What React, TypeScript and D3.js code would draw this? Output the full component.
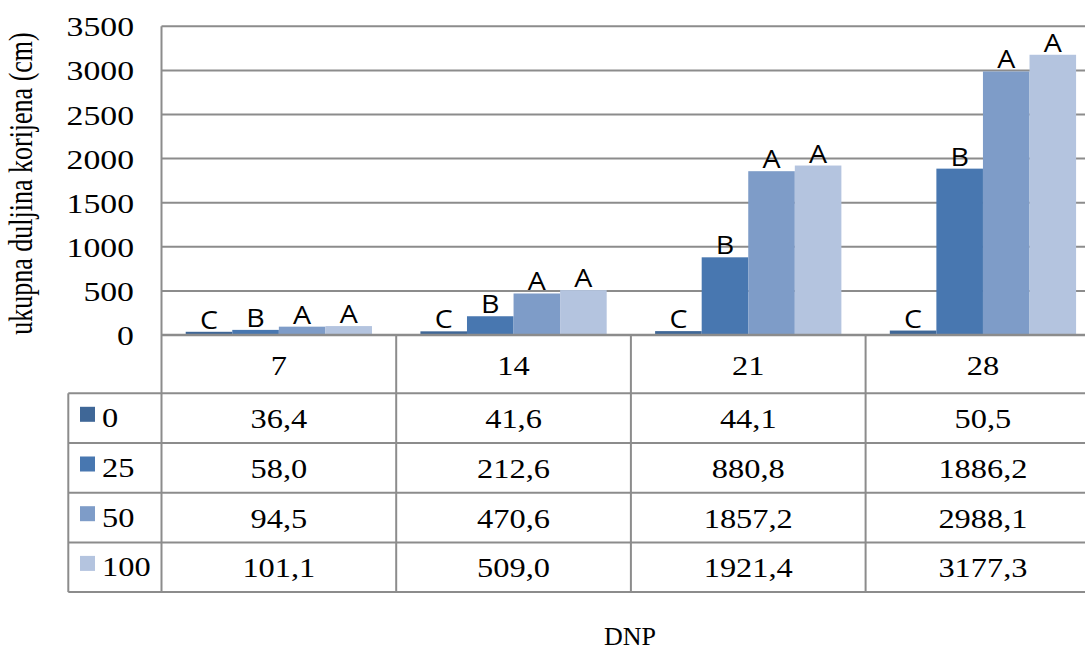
import * as d3 from 'd3';

const categories = ['7', '14', '21', '28'];
const seriesNames = ['0', '25', '50', '100'];
const values0 = [36.4, 41.6, 44.1, 50.5];
const values25 = [58.0, 212.6, 880.8, 1886.2];
const values50 = [94.5, 470.6, 1857.2, 2988.1];
const values100 = [101.1, 509.0, 1921.4, 3177.3];
const letters0 = ['C', 'C', 'C', 'C'];
const letters25 = ['B', 'B', 'B', 'B'];
const letters50 = ['A', 'A', 'A', 'A'];
const letters100 = ['A', 'A', 'A', 'A'];
const yTicks = [0, 500, 1000, 1500, 2000, 2500, 3000, 3500];
const colors = ['#3f6797', '#4877b0', '#7e9cc8', '#b4c4df'];

const W = 1085;
const H = 651;
const plotLeft = 161.5;
const bandW = 234.7;
const yZero = 335;
const yTop = 26.3;
const catRowBottom = 393.3;
const rowH = 49.7;
const legendLeft = 68.3;
const gridColor = '#8c8c8c';
const serif = '"Liberation Serif", "Times New Roman", serif';
const sans = '"Open Sans", "Liberation Sans", sans-serif';

const allValues = [values0, values25, values50, values100];
const allLetters = [letters0, letters25, letters50, letters100];

function fmt(v: number): string {
  return v.toFixed(1).replace('.', ',');
}

function SerifText({ x, y, text, size = 27, sx = 1.2, anchor = 'middle' }: {
  x: number; y: number; text: string; size?: number; sx?: number; anchor?: string;
}) {
  return (
    <text
      transform={`translate(${x},${y}) scale(${sx},1)`}
      textAnchor={anchor}
      fontFamily={serif}
      fontSize={size}
      fill="#000"
    >
      {text}
    </text>
  );
}

export default function App() {
  const x = d3
    .scaleBand<string>()
    .domain(categories)
    .range([plotLeft, plotLeft + bandW * categories.length])
    .padding(0);
  const inner = d3
    .scaleBand<string>()
    .domain(seriesNames)
    .range([0, x.bandwidth()])
    .paddingInner(0)
    .paddingOuter(0.52);
  const y = d3.scaleLinear().domain([0, 3500]).range([yZero, yTop]);

  const plotRight = plotLeft + bandW * categories.length;
  const rowTops = seriesNames.map((_, i) => catRowBottom + i * rowH);
  const tableBottom = catRowBottom + seriesNames.length * rowH;

  return (
    <svg
      width={W}
      height={H}
      style={{ position: 'absolute', left: 0, top: 0, background: '#fff' }}
    >
      <rect x={0} y={0} width={W} height={H} fill="#fff" />

      {/* gridlines */}
      {yTicks.map((t) => (
        <line
          key={`g${t}`}
          x1={plotLeft}
          x2={plotRight}
          y1={y(t)}
          y2={y(t)}
          stroke={gridColor}
          strokeWidth={2}
        />
      ))}

      {/* bars */}
      {seriesNames.map((s, si) =>
        categories.map((c, ci) => {
          const v = allValues[si][ci];
          const bx = (x(c) ?? 0) + (inner(s) ?? 0);
          return (
            <rect
              key={`b${si}-${ci}`}
              x={bx}
              y={y(v)}
              width={inner.bandwidth()}
              height={yZero - y(v)}
              fill={colors[si]}
            />
          );
        }),
      )}

      {/* significance letters */}
      {seriesNames.map((s, si) =>
        categories.map((c, ci) => {
          const v = allValues[si][ci];
          const cx = (x(c) ?? 0) + (inner(s) ?? 0) + inner.bandwidth() / 2;
          return (
            <text
              key={`l${si}-${ci}`}
              transform={`translate(${cx},${y(v) - 3}) scale(1.1,1)`}
              textAnchor="middle"
              fontFamily={sans}
              fontSize={26}
              fill="#000"
            >
              {allLetters[si][ci]}
            </text>
          );
        }),
      )}

      {/* axis line and left border */}
      <line x1={plotLeft} x2={plotRight} y1={yZero} y2={yZero} stroke={gridColor} strokeWidth={2.5} />
      <line x1={plotLeft} x2={plotLeft} y1={yTop} y2={tableBottom} stroke={gridColor} strokeWidth={2} />

      {/* y tick labels */}
      {yTicks.map((t) => (
        <SerifText key={`t${t}`} x={134} y={y(t) + 10} text={String(t)} anchor="end" sx={1.25} />
      ))}

      {/* data table */}
      {[catRowBottom, ...rowTops.slice(1), tableBottom].map((ly, i) => (
        <line
          key={`h${i}`}
          x1={legendLeft}
          x2={plotRight}
          y1={ly}
          y2={ly}
          stroke={gridColor}
          strokeWidth={2}
        />
      ))}
      <line x1={legendLeft} x2={legendLeft} y1={catRowBottom} y2={tableBottom} stroke={gridColor} strokeWidth={2} />
      {categories.slice(1).map((c) => (
        <line
          key={`v${c}`}
          x1={x(c) ?? 0}
          x2={x(c) ?? 0}
          y1={yZero}
          y2={tableBottom}
          stroke={gridColor}
          strokeWidth={2}
        />
      ))}
      {categories.map((c) => (
        <SerifText key={`c${c}`} x={(x(c) ?? 0) + x.bandwidth() / 2} y={375} text={c} />
      ))}
      {seriesNames.map((s, si) => (
        <g key={`r${s}`}>
          <rect x={80} y={rowTops[si] + 13.5} width={15} height={15} fill={colors[si]} />
          <SerifText x={102} y={rowTops[si] + 34} text={s} anchor="start" />
          {categories.map((c, ci) => (
            <SerifText
              key={`v${s}-${c}`}
              x={(x(c) ?? 0) + x.bandwidth() / 2}
              y={rowTops[si] + 35}
              text={fmt(allValues[si][ci])}
            />
          ))}
        </g>
      ))}

      {/* axis titles */}
      <text
        transform="translate(32,183.5) scale(1.3,1) rotate(-90)"
        textAnchor="middle"
        fontFamily={serif}
        fontSize={26}
        fill="#000"
      >
        ukupna duljina korijena (cm)
      </text>
      <SerifText x={630} y={645} text="DNP" size={25} sx={1.04} />
    </svg>
  );
}
